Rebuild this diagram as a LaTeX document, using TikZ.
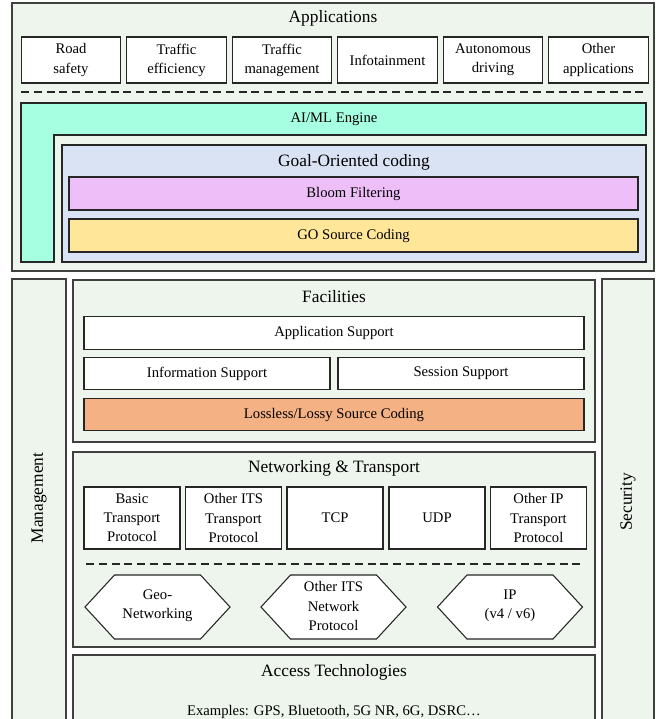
\documentclass[tikz,border=0pt]{standalone}
\usepackage{fontspec}
\setmainfont{Liberation Serif}
\definecolor{LayerBack}{HTML}{EEF5EC}
\definecolor{EngineFill}{HTML}{A6FFE0}
\definecolor{GoalFill}{HTML}{DAE3F3}
\definecolor{BloomFill}{HTML}{EEBEF8}
\definecolor{GoSrcFill}{HTML}{FFE699}
\definecolor{LossyFill}{HTML}{F4B183}
\newcommand{\headsize}{\fontsize{13}{15.6}\selectfont}
\newcommand{\bodysize}{\fontsize{11}{14.3}\selectfont}
\tikzset{
    layer/.style={draw=black!75, line width=0.9pt, fill=LayerBack},
    blockbox/.style={draw=black!85, line width=0.8pt, fill=white, inner sep=0pt,
        align=center, font=\bodysize},
    appbox/.style={blockbox, minimum width=74.5pt, minimum height=34.5pt},
    stackbox/.style={blockbox, minimum width=72pt, minimum height=46.5pt},
    widebox/.style={blockbox, minimum width=375pt, minimum height=24.5pt},
    halfbox/.style={blockbox, minimum width=184.5pt, minimum height=24.5pt},
    title/.style={font=\headsize, inner sep=0pt},
    bodytext/.style={font=\bodysize, align=center, inner sep=0pt},
    sepline/.style={draw=black!85, line width=0.8pt, dash pattern=on 6pt off 3.6pt}
}

\begin{document}
\begin{tikzpicture}[x=0.75pt, y=-0.75pt]

    \useasboundingbox (0,0) rectangle (656,719);
    \clip (0,0) rectangle (656,719);

    % Applications layer
    \draw[layer] (12,3) rectangle (654,271);
    \node[title] (apps) at (333,18) {Applications};

    \node[appbox] (road) at (71,60) {Road\\safety};
    \node[appbox] (effic) at (176.5,60) {Traffic\\efficiency};
    \node[appbox] (manag) at (282,60) {Traffic\\management};
    \node[appbox] (info) at (387.5,60) {Infotainment};
    \node[appbox] (auto) at (493,60) {Autonomous\\driving};
    \node[appbox] (other) at (598.5,60) {Other\\applications};

    \coordinate (sepL) at (21,92);
    \coordinate (sepR) at (645,92);
    \draw[sepline] (sepL) -- (sepR);

    % AI/ML engine
    \draw[draw=black!85, line width=0.8pt, fill=EngineFill]
        (21,103) -- (646,103) -- (646,135) -- (54,135) -- (54,262) -- (21,262) -- cycle;
    \node[bodytext] (aiml) at (334,119) {AI/ML Engine};

    % Goal-oriented coding
    \draw[draw=black!85, line width=0.8pt, fill=GoalFill] (62,145) rectangle (646,262);
    \node[title] (goal) at (354,162) {Goal-Oriented coding};
    \node[blockbox, fill=BloomFill, minimum width=426.75pt, minimum height=24.75pt]
        (bloom) at (353.5,193.5) {Bloom Filtering};
    \node[blockbox, fill=GoSrcFill, minimum width=426.75pt, minimum height=24.75pt]
        (gosrc) at (353.5,235.5) {GO Source Coding};

    % Side columns
    \draw[layer] (12,279) rectangle (66,730);
    \node[title, rotate=90] (mgmt) at (39,498) {Management};
    \draw[layer] (602,279) rectangle (654,730);
    \node[title, rotate=90] (secu) at (628,502) {Security};

    % Facilities
    \draw[layer] (73,280) rectangle (595,442);
    \node[title] (facil) at (334,297) {Facilities};
    \node[widebox] (appsup) at (334,333) {Application Support};
    \node[halfbox] (infosup) at (207,373.5) {Information Support};
    \node[halfbox] (sesssup) at (461,373.5) {Session Support};
    \node[widebox, fill=LossyFill] (lossy) at (334,414.5) {Lossless/Lossy Source Coding};

    % Networking & Transport
    \draw[layer] (73,452) rectangle (595,647);
    \node[title] (nettr) at (334,468) {Networking \& Transport};
    \node[stackbox] (btp) at (132,518) {Basic\\Transport\\Protocol};
    \node[stackbox] (itstp) at (233.5,518) {Other ITS\\Transport\\Protocol};
    \node[stackbox] (tcp) at (335,518) {TCP};
    \node[stackbox] (udp) at (437,518) {UDP};
    \node[stackbox] (iptp) at (538.5,518) {Other IP\\Transport\\Protocol};

    \coordinate (netL) at (86,564);
    \coordinate (netR) at (584,564);
    \draw[sepline] (netL) -- (netR);

    \foreach \nm/\cx/\txt in {geo/157.5/{Geo-\\Networking}, itsnet/333.5/{Other ITS\\Network\\Protocol}, ip/510/{IP\\(v4 / v6)}} {
        \draw[draw=black!85, line width=0.8pt, fill=white]
            (\cx-72.5,607) -- (\cx-43,575) -- (\cx+43,575) -- (\cx+72.5,607)
            -- (\cx+43,639) -- (\cx-43,639) -- cycle;
        \node[bodytext] (\nm) at (\cx,606) {\txt};
    }

    % Access technologies
    \draw[layer] (73,655) rectangle (595,730);
    \node[title] (access) at (334,672) {Access Technologies};
    \node[bodytext] (examples) at (334,712) {Examples: GPS, Bluetooth, 5G NR, 6G, DSRC…};

\end{tikzpicture}
\end{document}
